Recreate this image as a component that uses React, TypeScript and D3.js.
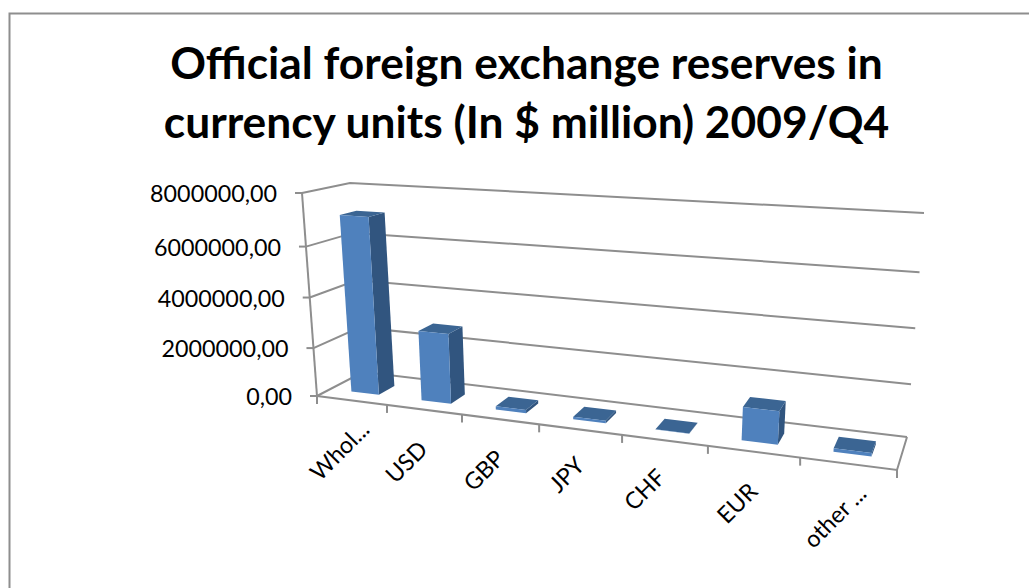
import React from "react";
import * as d3 from "d3";

const titleLines = ["Official foreign exchange reserves in", "currency units (In $ million) 2009/Q4"];
const categories = ["Whol...", "USD", "GBP", "JPY", "CHF", "EUR", "other ..."];
const reserves = [7100000, 2820000, 130000, 100000, 10000, 1250000, 130000];
const valueTicks = [0, 2000000, 4000000, 6000000, 8000000];
const valueTickLabels = ["0,00", "2000000,00", "4000000,00", "6000000,00", "8000000,00"];

// Corners of the plot box in screen space: [front|back][bottom|top][left|right]
const box = {
  fbl: [317, 396], ftl: [302, 193], fbr: [897, 470], ftr: [915, 230],
  bbl: [363, 372], btl: [350, 183], bbr: [907, 437], btr: [924, 213],
};

// Foreshortening along the category and value axes
const xFrac = d3.scaleLinear().domain(d3.range(8)).range([0, 0.1207, 0.25, 0.383, 0.526, 0.674, 0.833, 1]);
const yFrac = d3.scaleLinear().domain(valueTicks).range([0, 0.236, 0.485, 0.736, 1]);

const mix = (a: number[], b: number[], t: number) => [a[0] + (b[0] - a[0]) * t, a[1] + (b[1] - a[1]) * t];

// Maps (category position, value, depth 0..1) onto the page
function project(cat: number, value: number, depth: number) {
  const u = xFrac(cat);
  const v = yFrac(value);
  const fb = mix(box.fbl, box.fbr, u);
  const ft = mix(box.ftl, box.ftr, u);
  const bb = mix(box.bbl, box.bbr, u);
  const bt = mix(box.btl, box.btr, u);
  return mix(mix(fb, ft, v), mix(bb, bt, v), depth);
}

const poly = (pts: number[][]) => d3.line()(pts as [number, number][])! + "Z";

const FONT = "Lato, Carlito, sans-serif";
const AXIS = "#8e8e8e";
const AXIS_W = 2;

const BAR_INSET = 0.3;
const BAR_FRONT = 0.3;
const BAR_BACK = 0.66;

const labelAnchors = [
  [371, 431], [429, 451], [506, 460], [586, 467], [667, 479], [759, 493], [868, 495],
];

export default function App() {
  return (
    <svg width={1029} height={588} style={{ position: "absolute", left: 0, top: 0, background: "#fff" }}>
      <rect x={9.5} y={13.5} width={1040} height={600} fill="#fff" stroke="#8e8e8e" strokeWidth={2} />

      <text textAnchor="middle" fontFamily={FONT} fontWeight={700} fontSize={44.3} fill="#000">
        {titleLines.map((line, i) => (
          <tspan key={i} x={526.5} y={78.5 + i * 59.5}>{line}</tspan>
        ))}
      </text>

      {valueTicks.map((t, i) => {
        const front = project(0, t, 0);
        const back = project(0, t, 1);
        const right = project(7, t, 1);
        return (
          <g key={t}>
            <path d={d3.line()([front, back, right] as [number, number][])!} fill="none" stroke={AXIS} strokeWidth={AXIS_W} />
            <line x1={front[0] - 7} y1={front[1]} x2={front[0]} y2={front[1]} stroke={AXIS} strokeWidth={AXIS_W} />
            <text x={front[0] - 25} y={front[1] + 9} textAnchor="end" fontFamily={FONT} fontSize={23.3} fill="#000">
              {valueTickLabels[i]}
            </text>
          </g>
        );
      })}

      {/* Value axis and floor edges */}
      <path d={d3.line()([project(0, 0, 0), project(0, 8000000, 0)] as [number, number][])!} stroke={AXIS} strokeWidth={AXIS_W} fill="none" />
      <path d={d3.line()([project(0, 0, 0), project(7, 0, 0), project(7, 0, 1)] as [number, number][])!} stroke={AXIS} strokeWidth={AXIS_W} fill="none" />
      {d3.range(8).map((i) => {
        const p = project(i, 0, 0);
        return <line key={i} x1={p[0]} y1={p[1]} x2={p[0]} y2={p[1] + 8} stroke={AXIS} strokeWidth={AXIS_W} />;
      })}

      {reserves.map((value, i) => {
        const l = i + BAR_INSET;
        const r = i + 1 - BAR_INSET;
        const p = (c: number, v: number, d: number) => project(c, v, d);
        return (
          <g key={categories[i]}>
            <path d={poly([p(r, 0, BAR_FRONT), p(r, 0, BAR_BACK), p(r, value, BAR_BACK), p(r, value, BAR_FRONT)])} fill="#31557f" />
            <path d={poly([p(l, value, BAR_FRONT), p(r, value, BAR_FRONT), p(r, value, BAR_BACK), p(l, value, BAR_BACK)])} fill="#3b6593" />
            <path d={poly([p(l, 0, BAR_FRONT), p(r, 0, BAR_FRONT), p(r, value, BAR_FRONT), p(l, value, BAR_FRONT)])} fill="#4f81bd" />
          </g>
        );
      })}

      {categories.map((c, i) => (
        <text key={c} transform={`translate(${labelAnchors[i][0]},${labelAnchors[i][1]}) rotate(-45)`} textAnchor="end" fontFamily={FONT} fontSize={23.3} fill="#000">
          {c}
        </text>
      ))}
    </svg>
  );
}
